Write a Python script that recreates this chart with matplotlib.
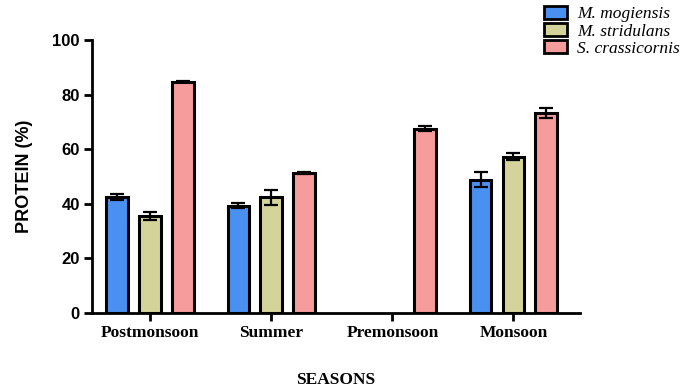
import numpy as np
import matplotlib
matplotlib.use("Agg")
import matplotlib.pyplot as plt
from matplotlib.patches import Patch

seasons = ["Postmonsoon", "Summer", "Premonsoon", "Monsoon"]
species = ["M. mogiensis", "M. stridulans", "S. crassicornis"]
colors = ["#4a90f0", "#d4d49a", "#f79c9c"]

mogiensis = [42.5, 39.3, np.nan, 48.8]
mogiensis_err = [1.0, 0.8, np.nan, 2.8]
stridulans = [35.5, 42.3, np.nan, 57.3]
stridulans_err = [1.5, 2.7, np.nan, 1.2]
crassicornis = [84.7, 51.3, 67.5, 73.3]
crassicornis_err = [0.3, 0.3, 1.0, 1.8]

values = [mogiensis, stridulans, crassicornis]
errors = [mogiensis_err, stridulans_err, crassicornis_err]

fig = plt.figure(figsize=(6.93, 3.91), dpi=100)
ax = fig.add_axes([0.133, 0.1995, 0.704, 0.6985])

x = np.arange(len(seasons))
step = 0.272
width = 0.18
for i, (vals, errs, col) in enumerate(zip(values, errors, colors)):
    pos = x + (i - 1) * step
    ax.bar(pos, vals, width=width, color=col, edgecolor="black", linewidth=2.2, zorder=2)
    ax.errorbar(pos, vals, yerr=errs, fmt="none", ecolor="black", elinewidth=1.6,
                capsize=5, capthick=1.6, zorder=3)

ax.set_xlim(-0.48, 3.55)
ax.set_ylim(0, 100)
ax.set_yticks([0, 20, 40, 60, 80, 100])
ax.set_xticks(x)
ax.set_xticklabels(seasons, fontfamily="Liberation Serif", fontweight="bold", fontsize=12.5)
for lbl in ax.get_yticklabels():
    lbl.set_fontfamily("Liberation Sans")
    lbl.set_fontweight("bold")
    lbl.set_fontsize(12)

for s in ["top", "right"]:
    ax.spines[s].set_visible(False)
for s in ["left", "bottom"]:
    ax.spines[s].set_linewidth(2)
ax.tick_params(axis="both", width=2, length=6, direction="out", pad=3)

ax.set_ylabel("PROTEIN (%)", fontfamily="Liberation Sans", fontweight="bold", fontsize=13, labelpad=14)
ax.set_xlabel("SEASONS", fontfamily="Liberation Serif", fontweight="bold", fontsize=12.5, labelpad=22)

handles = [Patch(facecolor=c, edgecolor="black", linewidth=2) for c in colors]
leg = fig.legend(handles, species, loc="upper left", bbox_to_anchor=(0.763, 1.025),
                 frameon=False, prop={"family": "Liberation Serif", "style": "italic", "size": 12.5},
                 handlelength=1.32, handleheight=0.75, handletextpad=0.55, labelspacing=0.05)

fig.savefig("out.png", dpi=100)
